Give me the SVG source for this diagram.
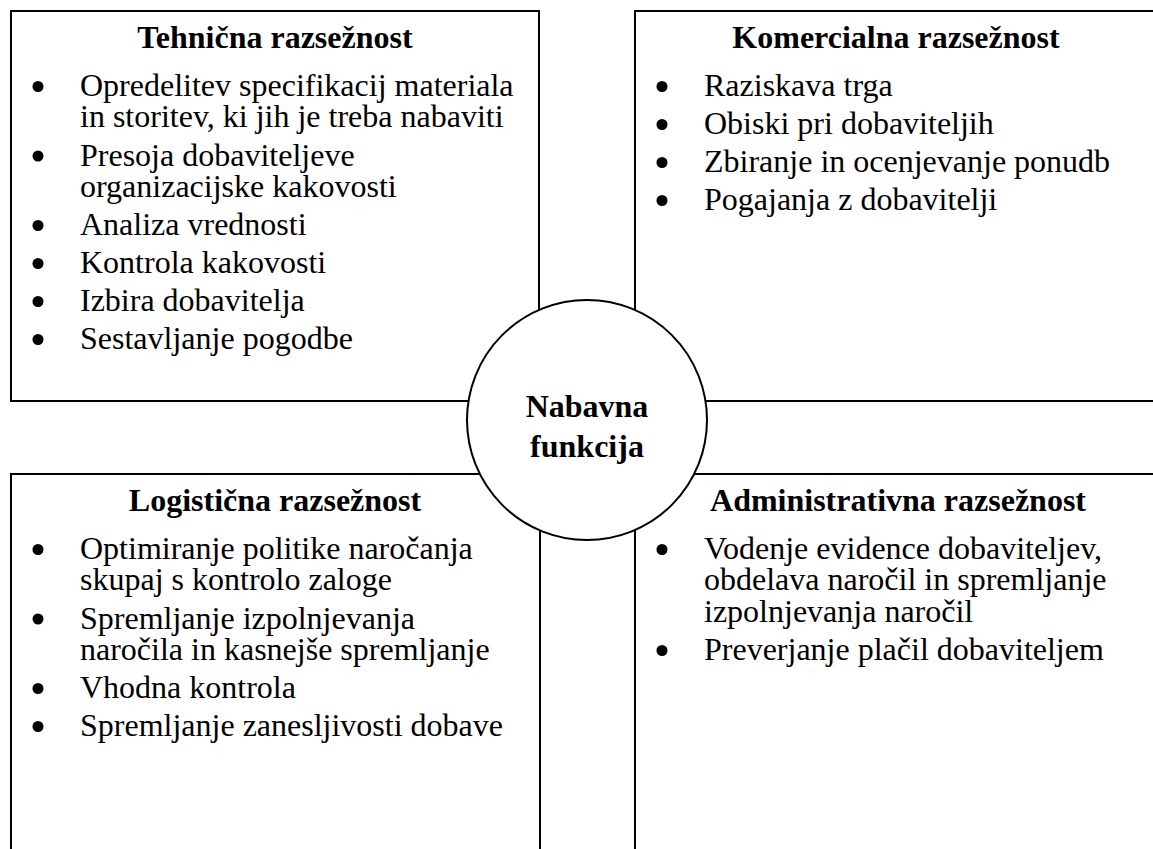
<svg xmlns="http://www.w3.org/2000/svg" width="1153" height="849" viewBox="0 0 1153 849">
<style>
.box{fill:#fff;stroke:#000;stroke-width:2}
.title{font-family:"Liberation Serif","Times New Roman",serif;font-weight:bold;font-size:32px;fill:#000;text-anchor:middle}
.item{font-family:"Liberation Serif","Times New Roman",serif;font-size:32px;fill:#000}
.bul{fill:#000}
</style>
<rect width="1153" height="849" fill="#fff"/>
<g id="tehnicna">
<rect class="box" x="11" y="11" width="528" height="390"/>
<text class="title" x="275" y="48">Tehnična razsežnost</text>
<circle class="bul" cx="38" cy="86.5" r="5.5"/>
<text class="item" x="80" y="96">Opredelitev specifikacij materiala</text>
<text class="item" x="80" y="127">in storitev, ki jih je treba nabaviti</text>
<circle class="bul" cx="38" cy="156" r="5.5"/>
<text class="item" x="80" y="165.5">Presoja dobaviteljeve</text>
<text class="item" x="80" y="197">organizacijske kakovosti</text>
<circle class="bul" cx="38" cy="225.5" r="5.5"/>
<text class="item" x="80" y="235">Analiza vrednosti</text>
<circle class="bul" cx="38" cy="263.5" r="5.5"/>
<text class="item" x="80" y="273">Kontrola kakovosti</text>
<circle class="bul" cx="38" cy="301.5" r="5.5"/>
<text class="item" x="80" y="311">Izbira dobavitelja</text>
<circle class="bul" cx="38" cy="339.5" r="5.5"/>
<text class="item" x="80" y="349">Sestavljanje pogodbe</text>
</g>
<g id="komercialna">
<rect class="box" x="635" y="11" width="560" height="390"/>
<text class="title" x="896" y="48">Komercialna razsežnost</text>
<circle class="bul" cx="662" cy="86.5" r="5.5"/>
<text class="item" x="704" y="96">Raziskava trga</text>
<circle class="bul" cx="662" cy="124.5" r="5.5"/>
<text class="item" x="704" y="134">Obiski pri dobaviteljih</text>
<circle class="bul" cx="662" cy="162.5" r="5.5"/>
<text class="item" x="704" y="172">Zbiranje in ocenjevanje ponudb</text>
<circle class="bul" cx="662" cy="200.5" r="5.5"/>
<text class="item" x="704" y="210">Pogajanja z dobavitelji</text>
</g>
<g id="logisticna">
<rect class="box" x="11" y="474" width="529" height="400"/>
<text class="title" x="275" y="511">Logistična razsežnost</text>
<circle class="bul" cx="38" cy="549.5" r="5.5"/>
<text class="item" x="80" y="559">Optimiranje politike naročanja</text>
<text class="item" x="80" y="590">skupaj s kontrolo zaloge</text>
<circle class="bul" cx="38" cy="619" r="5.5"/>
<text class="item" x="80" y="628.5">Spremljanje izpolnjevanja</text>
<text class="item" x="80" y="660">naročila in kasnejše spremljanje</text>
<circle class="bul" cx="38" cy="688.5" r="5.5"/>
<text class="item" x="80" y="698">Vhodna kontrola</text>
<circle class="bul" cx="38" cy="726.5" r="5.5"/>
<text class="item" x="80" y="736">Spremljanje zanesljivosti dobave</text>
</g>
<g id="administrativna">
<rect class="box" x="635" y="474" width="560" height="400"/>
<text class="title" x="898" y="511">Administrativna razsežnost</text>
<circle class="bul" cx="662" cy="549.5" r="5.5"/>
<text class="item" x="704" y="559">Vodenje evidence dobaviteljev,</text>
<text class="item" x="704" y="590">obdelava naročil in spremljanje</text>
<text class="item" x="704" y="621.5">izpolnjevanja naročil</text>
<circle class="bul" cx="662" cy="650.5" r="5.5"/>
<text class="item" x="704" y="660">Preverjanje plačil dobaviteljem</text>
</g>
<g id="connectors"></g>
<g id="nabavna">
<circle cx="587" cy="420" r="120" fill="#fff" stroke="#000" stroke-width="2"/>
<text class="title" x="587" y="417">Nabavna</text>
<text class="title" x="587" y="457">funkcija</text>
</g>
</svg>
